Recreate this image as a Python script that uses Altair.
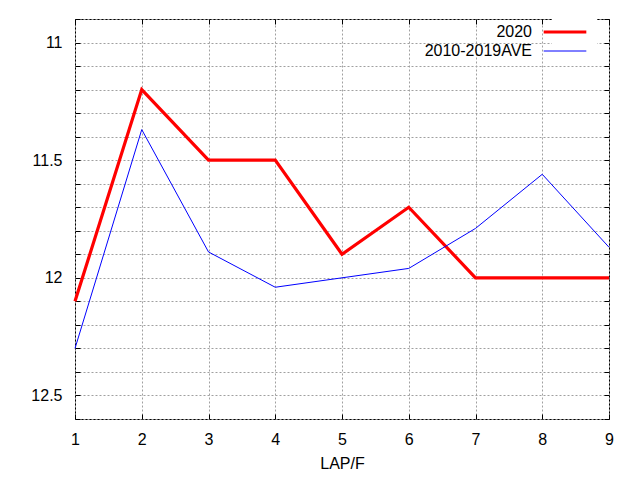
import altair as alt
import pandas as pd

laps = [1, 2, 3, 4, 5, 6, 7, 8, 9]
y2020 = [12.1, 11.2, 11.5, 11.5, 11.9, 11.7, 12.0, 12.0, 12.0]
yave = [12.3, 11.37, 11.89, 12.04, 12.0, 11.96, 11.79, 11.56, 11.87]
series = ["2020", "2010-2019AVE"]
ytick_vals = [round(10.9 + 0.1 * i, 1) for i in range(18)]
xtick_vals = laps

rows = []
for s, vals in zip(series, [y2020, yave]):
    for x, v in zip(laps, vals):
        rows.append({"lap": x, "time": v, "series": s})
df = pd.DataFrame(rows)

W, H = 534, 400
FONT = "Liberation Sans"
FS = 16

xscale = alt.Scale(domain=[1, 9], nice=False, zero=False)
yscale = alt.Scale(domain=[10.9, 12.6], reverse=True, nice=False, zero=False)

label_expr = "abs(datum.value*2 - round(datum.value*2)) < 0.001 ? format(datum.value, '') : ''"

main = alt.Chart(df).mark_line().encode(
    x=alt.X("lap:Q", scale=xscale, title="LAP/F",
            axis=alt.Axis(orient="bottom", values=xtick_vals, ticks=False, domain=False,
                          grid=True, gridDash=[2, 2], gridColor="#a0a0a0",
                          labelPadding=12, titlePadding=8, format="d", labelFlush=False)),
    y=alt.Y("time:Q", scale=yscale, title=None,
            axis=alt.Axis(orient="left", values=ytick_vals, ticks=False, domain=False,
                          grid=True, gridDash=[2, 2], gridColor="#a0a0a0",
                          labelPadding=13, labelExpr=label_expr, labelFlush=False)),
    color=alt.Color("series:N", scale=alt.Scale(domain=series, range=["#ff0000", "#0000ff"]),
                    sort=series, title=None,
                    legend=alt.Legend(orient="none", legendX=477, legendY=0,
                                      symbolType="M-3,0H3", symbolSize=202,
                                      labelAlign="right", labelOffset={"expr": "-42"},
                                      labelFont=FONT, labelFontSize=FS, labelColor="#000",
                                      rowPadding=3, fillColor="white", padding=4)),
    strokeWidth=alt.StrokeWidth("series:N", scale=alt.Scale(domain=series, range=[3.2, 1]),
                                sort=series, title=None, legend=None),
)

tick_common = dict(labels=False, domain=False, grid=False, ticks=True, tickSize=5,
                   tickColor="#000", tickWidth=1)

ticksA = alt.Chart(df).mark_point(opacity=0).encode(
    x=alt.X("lap:Q", scale=xscale, title=None,
            axis=alt.Axis(orient="top", offset=-H, values=xtick_vals, **tick_common)),
    y=alt.Y("time:Q", scale=yscale, title=None,
            axis=alt.Axis(orient="right", offset=-W, values=ytick_vals, **tick_common)),
)
ticksB = alt.Chart(df).mark_point(opacity=0).encode(
    x=alt.X("lap:Q", scale=xscale, title=None,
            axis=alt.Axis(orient="bottom", offset=-H, values=xtick_vals, **tick_common)),
    y=alt.Y("time:Q", scale=yscale, title=None,
            axis=alt.Axis(orient="left", offset=-W, values=ytick_vals, **tick_common)),
)

chart = alt.layer(main, ticksA, ticksB).resolve_axis(x="independent", y="independent").properties(
    width=W, height=H,
    autosize=alt.AutoSizeParams(type="none"),
    padding={"left": 67, "top": 11, "right": 23, "bottom": 53},
).configure_view(stroke="#000", strokeWidth=1).configure_axis(
    labelFont=FONT, labelFontSize=FS, labelColor="#000",
    titleFont=FONT, titleFontSize=FS, titleFontWeight="normal", titleColor="#000",
).configure_legend(labelFont=FONT, labelFontSize=FS)

chart.save("out.html", embed_options={"renderer": "svg", "actions": False})
